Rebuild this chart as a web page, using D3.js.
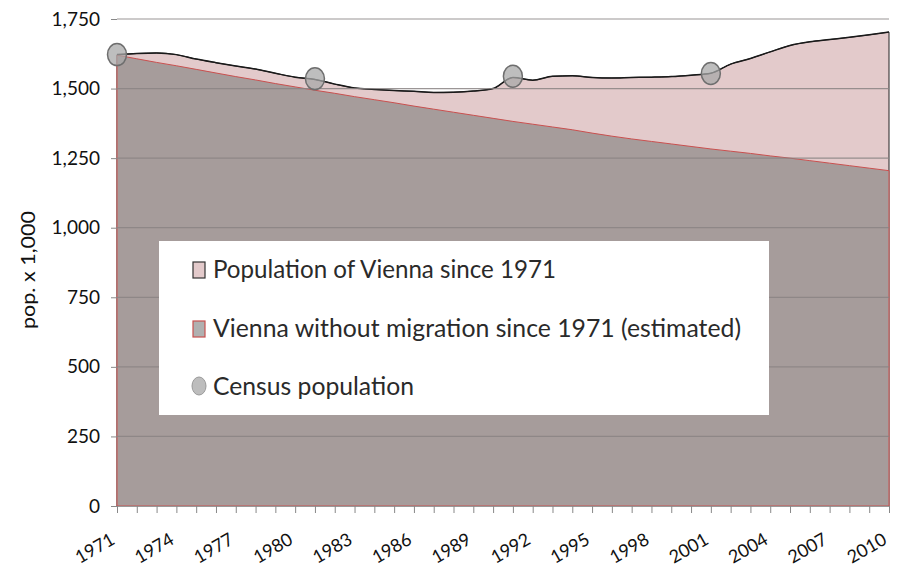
<!DOCTYPE html>
<html><head><meta charset="utf-8">
<script src="https://cdn.jsdelivr.net/npm/d3@7"></script>
<style>body{margin:0;background:#fff;}svg{display:block;}text{font-family:Lato, "Open Sans", sans-serif;}</style>
</head><body>
<svg id="c" width="900" height="566"></svg>
<script>
const years = d3.range(1971, 2011);
const population = [1622,1626,1628,1622,1606,1593,1581,1570,1555,1541,1533,1516,1502,1497,1493,1490,1486,1487,1491,1500,1540,1530,1544,1546,1540,1538,1540,1541,1543,1548,1555,1588,1608,1632,1655,1668,1676,1684,1693,1703];
const noMigration = [1620,1607,1594,1582,1569,1556,1543,1531,1518,1506,1494,1483,1471,1460,1449,1437,1426,1415,1404,1393,1382,1372,1362,1352,1340,1329,1319,1310,1301,1292,1283,1275,1267,1258,1250,1241,1232,1223,1214,1205];
const censusYears = [1971,1981,1991,2001];
const censusValues = [1622,1535,1544,1554];
const yTicks = [0,250,500,750,1000,1250,1500,1750];
const xLabelYears = d3.range(1971, 2011, 3);
const legendLabels = ["Population of Vienna since 1971","Vienna without migration since 1971 (estimated)","Census population"];

const svg = d3.select("#c");
const L=117, R=889, T=19, B=506;
const x = d3.scaleLinear().domain([1971,2010]).range([L,R]);
const y = d3.scaleLinear().domain([0,1750]).range([B,T]);

const popData = years.map((yr,i)=>({yr, v:population[i]}));
const nmData = years.map((yr,i)=>({yr, v:noMigration[i]}));

const areaGen = d3.area().x(d=>x(d.yr)).y0(y(0)).y1(d=>y(d.v)).curve(d3.curveMonotoneX);
const lineGen = d3.line().x(d=>x(d.yr)).y(d=>y(d.v)).curve(d3.curveMonotoneX);

svg.append("path").datum(popData).attr("d",areaGen).attr("fill","#e3cacb").attr("stroke","#222").attr("stroke-width",1);
svg.append("path").datum(nmData).attr("d",areaGen).attr("fill","#a69c9b").attr("stroke","#c9504f").attr("stroke-width",1);
svg.append("path").datum(popData).attr("d",lineGen).attr("fill","none").attr("stroke","#1a1a1a").attr("stroke-width",1.5);

// gridlines
svg.append("g").selectAll("line").data(yTicks.filter(t=>t>0)).join("line")
  .attr("x1",L).attr("x2",R).attr("y1",d=>y(d)).attr("y2",d=>y(d))
  .attr("stroke","#8a8484").attr("stroke-width",1.2).attr("opacity",0.85);

// y axis
const yAxis = d3.axisLeft(y).tickValues(yTicks).tickFormat(d3.format(",")).tickSize(6).tickPadding(11);
const gy = svg.append("g").attr("transform",`translate(${L},0)`).call(yAxis);
gy.select(".domain").remove();
gy.selectAll(".tick line").attr("stroke","#888");
gy.selectAll("text").attr("font-size",19).attr("fill","#111");

// x axis
const xAxis = d3.axisBottom(x).tickValues(years).tickSize(7).tickFormat("");
const gx = svg.append("g").attr("transform",`translate(0,${B})`).call(xAxis);
gx.select(".domain").attr("stroke","#999");
gx.selectAll(".tick line").attr("stroke","#888");
svg.append("g").selectAll("text").data(xLabelYears).join("text")
  .attr("transform",d=>`translate(${x(d)-1},${B+37}) rotate(-30)`)
  .attr("text-anchor","end").attr("font-size",18).attr("fill","#111").text(d=>d);

// y title
svg.append("text").attr("transform","translate(35,270) rotate(-90)").attr("text-anchor","middle")
  .attr("font-size",19).attr("fill","#111").attr("textLength",118).attr("lengthAdjust","spacingAndGlyphs").text("pop. x 1,000");

// census ellipses
svg.append("g").selectAll("ellipse").data(censusYears.map((yr,i)=>({yr,v:censusValues[i]}))).join("ellipse")
  .attr("cx",d=>x(d.yr)).attr("cy",d=>y(d.v)).attr("rx",9.5).attr("ry",11)
  .attr("fill","#a8a8a8").attr("fill-opacity",0.75).attr("stroke","#6e6e6e").attr("stroke-width",1.5);

// legend
const lg = svg.append("g");
lg.append("rect").attr("x",159).attr("y",241).attr("width",610).attr("height",174).attr("fill","#fff");
const rows = [278,337,395];
const widths = [343,528,201];
lg.selectAll("text").data(legendLabels).join("text")
  .attr("x",213).attr("y",(d,i)=>rows[i]).attr("font-size",25).attr("fill","#2a2a2a")
  .attr("textLength",(d,i)=>widths[i]).attr("lengthAdjust","spacingAndGlyphs").text(d=>d);
lg.append("rect").attr("x",193).attr("y",262).attr("width",12).attr("height",16).attr("fill","#e3cacb").attr("stroke","#333").attr("stroke-width",1.2);
lg.append("rect").attr("x",193).attr("y",321).attr("width",12).attr("height",16).attr("fill","#b0b0b0").attr("stroke","#c9504f").attr("stroke-width",1.2);
lg.append("ellipse").attr("cx",199).attr("cy",386).attr("rx",7).attr("ry",9).attr("fill","#bdbdbd").attr("stroke","#999").attr("stroke-width",1);
</script>
</body></html>
